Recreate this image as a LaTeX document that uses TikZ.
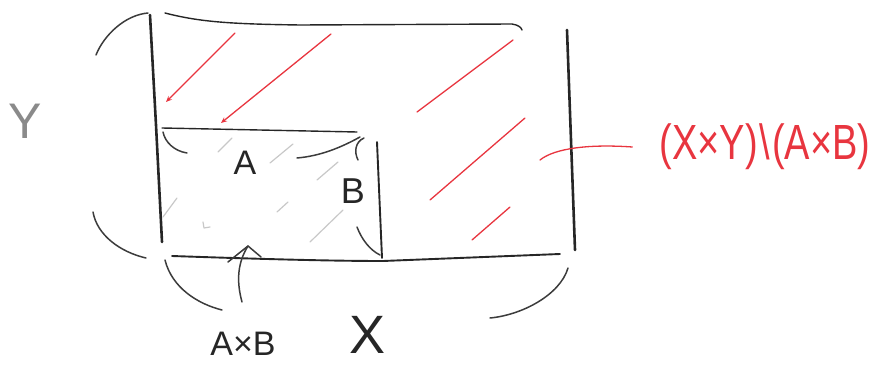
\documentclass[tikz,border=0pt]{standalone}
\usepackage{fontspec}
\usepackage{graphicx}
\setmainfont{Liberation Sans}
\usetikzlibrary{arrows.meta}
\definecolor{ink}{HTML}{262626}
\definecolor{redink}{HTML}{E8353F}
\definecolor{faint}{HTML}{C8C8C8}
\definecolor{greyink}{HTML}{8A8A8A}
\begin{document}
\begin{tikzpicture}[x=1pt,y=-1pt, line cap=round, line join=round,
  heavy/.style={draw=ink, line width=2.6pt},
  medium/.style={draw=ink, line width=1.9pt},
  thinline/.style={draw=ink, line width=1.4pt},
  brace/.style={draw=ink!90, line width=1.5pt},
  redline/.style={draw=redink, line width=1.3pt},
  redarrow/.style={draw=redink, line width=1.3pt, -{Stealth[length=6pt,width=5pt]}},
  hatch/.style={draw=faint, line width=1.2pt},
  lbl/.style={text=ink, inner sep=0pt},
  redlbl/.style={text=redink, inner sep=0pt}]
\useasboundingbox (0,0) rectangle (878,366);

% outer rectangle X x Y
\draw[heavy] (150,15) -- (156,125) -- (162,242);
\draw[thinline] (165,13) .. controls (200,22) and (230,24) .. (300,25) -- (512,24) .. controls (518,25) and (521,27) .. (522,30);
\draw[heavy] (567,30) -- (571,140) -- (575,250);
\draw[medium] (172,256) .. controls (260,259) and (330,261) .. (383,261) -- (560,254);

% inner rectangle A x B
\draw[thinline] (162,128) -- (357,132);
\draw[medium] (377,142) -- (382,258);

% braces of A and B
\draw[brace] (163,132) .. controls (165,142) and (174,151) .. (187,153);
\draw[brace] (297,158) .. controls (320,156) and (340,148) .. (360,137);
\draw[brace] (364,138) .. controls (355,142) and (354,152) .. (358,160);
\draw[brace] (357,227) .. controls (362,240) and (370,250) .. (380,255);

% braces of Y and X
\draw[brace] (148,13) .. controls (125,15) and (104,35) .. (96,55);
\draw[brace] (93,212) .. controls (97,235) and (120,252) .. (146,258);
\draw[brace] (165,260) .. controls (172,288) and (198,304) .. (222,310);
\draw[brace] (568,268) .. controls (560,295) and (522,315) .. (490,318);

% faint hatching in A x B
\draw[hatch] (218,152) -- (232,138);
\draw[hatch] (270,163) -- (293,144);
\draw[hatch] (317,180) -- (338,162);
\draw[hatch] (277,212) -- (288,202);
\draw[hatch] (310,242) -- (343,210);
\draw[hatch] (163,217) -- (177,198);
\draw[hatch] (203,222) -- (204,228) -- (210,227);

% red hatching of (X x Y) \ (A x B)
\draw[redarrow] (235,33) -- (166,102);
\draw[redarrow] (331,34) -- (221,123);
\draw[redline] (513,40) -- (417,112);
\draw[redline] (525,118) -- (430,200);
\draw[redline] (510,207) -- (472,240);

% labels
\node[lbl, font=\fontsize{34}{34}\selectfont] (A) at (245,163) {A};
\node[lbl, font=\fontsize{36}{36}\selectfont] (B) at (353,191) {B};
\node[text=greyink, inner sep=0pt, font=\fontsize{50}{50}\selectfont] (Y) at (25,121) {Y};
\node[lbl, font=\fontsize{54}{54}\selectfont] (X) at (368,335) {X};
\node[lbl, font=\fontsize{34}{34}\selectfont] (AxB) at (243,344) {A×B};
\node[redlbl, font=\fontsize{38}{38}\selectfont] (diff) at (765,147) {\scalebox{1}[1.3]{(X×Y)\kern2pt\textbackslash\kern2pt(A×B)}};

% connectors
\coordinate (redfoot) at (540,160);
\draw[redline] (redfoot) .. controls (555,148) and (590,144) .. ([xshift=-27pt]diff.west);
\coordinate (abtip) at (248,246);
\draw[brace] (242,302) .. controls (236,280) and (238,262) .. (abtip);
\draw[brace] (228,262) -- (abtip) -- (261,257);
\end{tikzpicture}
\end{document}
